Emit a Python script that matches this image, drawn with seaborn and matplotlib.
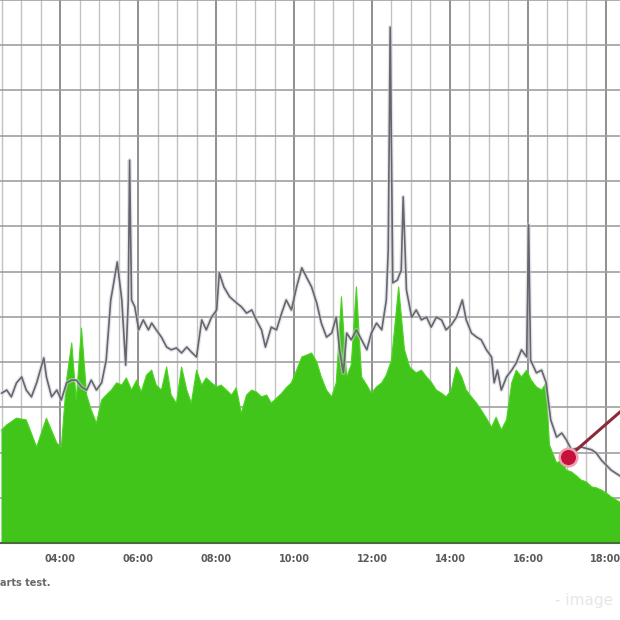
import pandas as pd
import matplotlib
matplotlib.use("Agg")
import matplotlib.pyplot as plt
import seaborn as sns

# ---------------------------------------------
# Datos (hora, valor)
# ---------------------------------------------
entrada_horas = [
    "02:30", "02:38", "02:53", "03:08", "03:24", "03:39", "03:55", "04:02", "04:10", "04:18",
    "04:25", "04:33", "04:41", "04:48", "04:56", "05:04", "05:11", "05:19", "05:27", "05:35",
    "05:42", "05:50", "05:58", "06:05", "06:13", "06:21", "06:28", "06:36", "06:44", "06:51",
    "06:59", "07:07", "07:15", "07:22", "07:30", "07:38", "07:45", "07:53", "08:01", "08:08",
    "08:16", "08:24", "08:31", "08:39", "08:47", "08:55", "09:02", "09:10", "09:18", "09:25",
    "09:33", "09:41", "09:48", "09:56", "10:04", "10:12", "10:19", "10:27", "10:35", "10:42",
    "10:50", "10:58", "11:05", "11:13", "11:21", "11:28", "11:36", "11:44", "11:52", "11:59",
    "12:07", "12:15", "12:22", "12:30", "12:41", "12:50", "12:58", "13:08", "13:16", "13:24",
    "13:31", "13:39", "13:47", "13:54", "14:02", "14:10", "14:18", "14:25", "14:33", "14:41",
    "14:48", "14:56", "15:04", "15:11", "15:19", "15:27", "15:35", "15:42", "15:50", "15:58",
    "16:05", "16:13", "16:21", "16:28", "16:33", "16:44", "16:52", "16:59", "17:07", "17:15",
    "17:22", "17:30", "17:38", "17:45", "17:53", "18:01", "18:08", "18:16", "18:24",
]
entrada_valores = [
    25.0, 26.1, 27.6, 27.2, 21.2, 27.6, 22.1, 21.2, 36.0, 44.2,
    31.6, 47.5, 32.7, 29.4, 26.5, 31.6, 32.7, 33.8, 35.4, 34.9,
    36.5, 33.8, 36.0, 33.4, 37.1, 38.2, 34.9, 33.8, 38.9, 32.7,
    30.9, 38.9, 33.8, 30.9, 38.2, 34.9, 36.5, 35.4, 34.5, 34.9,
    33.8, 32.7, 34.3, 28.7, 32.7, 33.8, 33.4, 32.3, 32.7, 30.9,
    32.0, 33.1, 34.3, 35.4, 38.2, 41.1, 41.5, 42.0, 40.0, 36.7,
    33.8, 32.3, 35.4, 54.4, 36.7, 39.3, 56.6, 36.7, 34.9, 33.1,
    34.5, 35.4, 37.1, 40.4, 56.6, 42.7, 38.9, 37.6, 38.2, 36.7,
    35.6, 33.8, 33.1, 32.3, 33.8, 38.9, 36.7, 33.8, 32.3, 30.9,
    29.4, 27.6, 25.6, 27.8, 25.0, 27.2, 35.4, 38.2, 36.7, 38.2,
    36.0, 34.5, 33.8, 35.4, 21.7, 17.7, 18.3, 16.1, 15.7, 14.8,
    13.9, 13.5, 12.4, 12.2, 11.7, 11.0, 10.2, 9.5, 8.8,
]

salida_horas = [
    "02:30", "02:38", "02:45", "02:53", "03:01", "03:08", "03:16", "03:24", "03:35", "03:39",
    "03:47", "03:55", "04:02", "04:10", "04:18", "04:25", "04:33", "04:41", "04:48", "04:56",
    "05:04", "05:11", "05:18", "05:22", "05:28", "05:35", "05:41", "05:45", "05:47", "05:50",
    "05:55", "06:01", "06:08", "06:16", "06:21", "06:28", "06:36", "06:44", "06:51", "06:59",
    "07:07", "07:15", "07:22", "07:30", "07:38", "07:45", "07:53", "08:01", "08:05", "08:12",
    "08:21", "08:32", "08:39", "08:47", "08:55", "09:02", "09:10", "09:16", "09:25", "09:33",
    "09:41", "09:48", "09:56", "10:04", "10:12", "10:19", "10:27", "10:35", "10:42", "10:50",
    "10:58", "11:05", "11:10", "11:16", "11:21", "11:28", "11:36", "11:44", "11:52", "11:59",
    "12:07", "12:15", "12:22", "12:25", "12:28", "12:32", "12:39", "12:45", "12:48", "12:53",
    "13:01", "13:08", "13:16", "13:24", "13:31", "13:39", "13:47", "13:54", "14:02", "14:10",
    "14:19", "14:25", "14:33", "14:41", "14:48", "14:56", "15:04", "15:08", "15:13", "15:19",
    "15:27", "15:35", "15:42", "15:50", "15:58", "16:01", "16:04", "16:13", "16:21", "16:28",
    "16:35", "16:44", "16:52", "16:59", "17:07", "17:22", "17:38", "17:45", "17:53", "18:08",
    "18:24",
]
salida_valores = [
    33.1, 33.8, 32.3, 35.4, 36.7, 33.8, 32.3, 35.4, 40.9, 36.7,
    32.3, 33.8, 31.6, 35.4, 36.0, 36.0, 34.5, 33.8, 36.0, 33.8,
    35.4, 40.4, 53.7, 57.0, 62.1, 53.7, 39.3, 53.7, 84.6, 53.7,
    52.2, 47.1, 49.3, 47.1, 48.6, 47.1, 45.5, 43.3, 42.7, 43.1,
    42.0, 43.3, 42.2, 41.1, 49.3, 47.1, 49.9, 51.5, 59.7, 56.6,
    54.4, 53.0, 52.2, 50.8, 51.5, 49.3, 47.1, 43.3, 47.7, 47.1,
    50.8, 53.7, 51.5, 56.6, 60.8, 58.8, 56.6, 53.0, 48.6, 45.5,
    46.4, 49.9, 42.7, 37.6, 46.4, 44.9, 47.1, 44.9, 42.7, 46.4,
    48.6, 47.1, 53.7, 64.8, 114.0, 57.5, 58.1, 60.3, 76.5, 55.9,
    49.9, 51.5, 49.3, 49.9, 47.7, 49.9, 49.3, 47.1, 48.2, 49.9,
    53.7, 49.3, 46.4, 45.5, 44.9, 42.7, 41.1, 35.4, 38.2, 33.8,
    36.7, 38.2, 39.8, 42.7, 41.1, 70.3, 40.4, 37.6, 38.2, 35.4,
    27.2, 23.4, 24.3, 22.8, 20.6, 21.2, 20.6, 19.9, 18.3, 16.1,
    14.6,
]

# marca roja y su flecha
marca_horas = ["17:02", "18:50"]
marca_valores = [19.0, 32.5]

etiquetas_x = ["04:00", "06:00", "08:00", "10:00", "12:00", "14:00", "16:00", "18:00"]


def a_horas(lista):
    t = pd.to_datetime(lista, format="%H:%M")
    return t.hour + t.minute / 60.0


df_in = pd.DataFrame({"hora": a_horas(entrada_horas), "valor": entrada_valores})
df_out = pd.DataFrame({"hora": a_horas(salida_horas), "valor": salida_valores})
df_marca = pd.DataFrame({"hora": a_horas(marca_horas), "valor": marca_valores})

# ---------------------------------------------
# Estilo
# ---------------------------------------------
sns.set_theme(style="white")
plt.rcParams["font.family"] = ["DejaVu Sans"]

fig = plt.figure(figsize=(6.2, 6.2), dpi=100, facecolor="white")
ax = fig.add_axes([0, 1 - 543 / 620, 1, 543 / 620])
ax.set_facecolor("white")

# rejilla
ax.set_xlim(2.46, 18.36)
ax.set_ylim(0, 120)
ax.set_xticks([4, 6, 8, 10, 12, 14, 16, 18])
ax.set_xticks([x / 2 for x in range(5, 37)], minor=True)
ax.set_yticks(range(0, 121, 10))
ax.grid(which="major", axis="x", color="#8e8e8e", linewidth=1.4)
ax.grid(which="minor", axis="x", color="#c2c2c2", linewidth=1.0)
ax.grid(which="major", axis="y", color="#a0a0a0", linewidth=1.2)
ax.set_axisbelow(True)

# area verde (entrada)
ax.fill_between(df_in["hora"], df_in["valor"], 0, color="#41c51a", linewidth=0, zorder=1.5)
sns.lineplot(data=df_in, x="hora", y="valor", color="#4cd422", linewidth=0.8,
             estimator=None, ax=ax, zorder=1.6)

# linea gris (salida) con halo
sns.lineplot(data=df_out, x="hora", y="valor", color="#cfcfd8", linewidth=3,
             alpha=0.55, estimator=None, ax=ax, zorder=3)
sns.lineplot(data=df_out, x="hora", y="valor", color="#66666f", linewidth=1.2,
             estimator=None, ax=ax, zorder=3.2)

# marca roja
sns.lineplot(data=df_marca, x="hora", y="valor", color="#8a2b3c", linewidth=2.2,
             estimator=None, ax=ax, zorder=4)
sns.scatterplot(data=df_marca.iloc[:1], x="hora", y="valor", color="#c4123c",
                s=160, edgecolor="#eea0b0", linewidth=1.8, ax=ax, zorder=5)

ax.set_xticklabels(etiquetas_x, fontsize=7, fontweight="bold", color="#5a5a5a")
ax.set_yticklabels([])
ax.tick_params(axis="x", which="both", length=0, pad=8)
ax.tick_params(axis="y", length=0)
ax.set_xlabel("")
ax.set_ylabel("")

for lado in ["top", "left", "right"]:
    ax.spines[lado].set_visible(False)
ax.spines["bottom"].set_color("#4a6a3a")
ax.spines["bottom"].set_linewidth(1.5)

fig.text(0.0, 0.055, "arts test.", fontsize=7, fontweight="bold", color="#6a6a6a")
fig.text(0.895, 0.025, "- image", fontsize=11, color="#e6e6e6")

plt.savefig("out.png", dpi=100, facecolor="white")
